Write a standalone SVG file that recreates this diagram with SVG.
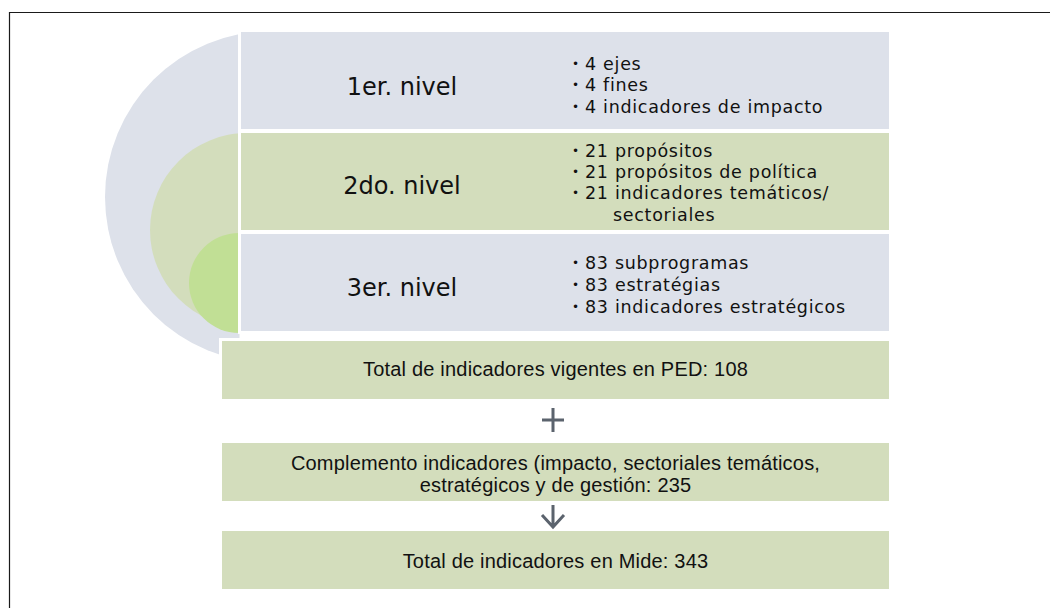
<svg xmlns="http://www.w3.org/2000/svg" width="1050" height="608" viewBox="0 0 1050 608">
  <defs>
    <style>
      .blue { fill: #dde1ea; stroke: #ffffff; stroke-width: 3; }
      .green { fill: #d3ddbc; stroke: #ffffff; stroke-width: 3; }
      .lvl { font-family: "DejaVu Sans", sans-serif; font-size: 24px; fill: #111111; text-anchor: middle; }
      .item { font-family: "DejaVu Sans", sans-serif; font-size: 17.5px; fill: #111111; letter-spacing: 0.7px; }
      .dot { font-family: "DejaVu Sans", sans-serif; font-size: 12px; fill: #111111; }
      .tot { font-family: "Liberation Sans", Arial, sans-serif; font-size: 20px; fill: #111111; text-anchor: middle; letter-spacing: 0.2px; }
      .sym { stroke: #5b636d; stroke-width: 3; fill: none; }
    </style>
    <clipPath id="leftHalf">
      <rect x="0" y="0" width="239.5" height="608"/>
    </clipPath>
  </defs>

  <rect x="0" y="0" width="1050" height="608" fill="#ffffff"/>
  <path d="M9.5,608 V12.5 H1050" fill="none" stroke="#1a1a1a" stroke-width="1.2"/>

  <g id="target" clip-path="url(#leftHalf)">
    <circle cx="271" cy="197" r="166" fill="#dde1ea"/>
    <circle cx="247" cy="230" r="97" fill="#d3ddbc"/>
    <circle cx="239" cy="283" r="50" fill="#c1df95"/>
  </g>

  <g id="nivel1">
    <rect class="blue" x="239.5" y="30.5" width="651" height="100"/>
    <text class="lvl" x="402" y="95">1er. nivel</text>
    <text class="dot" x="572" y="68">•</text>
    <text class="item" x="585" y="70">4 ejes</text>
    <text class="dot" x="572" y="89">•</text>
    <text class="item" x="585" y="91">4 fines</text>
    <text class="dot" x="572" y="111">•</text>
    <text class="item" x="585" y="113">4 indicadores de impacto</text>
  </g>

  <g id="nivel2">
    <rect class="green" x="239.5" y="131.5" width="651" height="100"/>
    <text class="lvl" x="402" y="194">2do. nivel</text>
    <text class="dot" x="572" y="155">•</text>
    <text class="item" x="585" y="157">21 propósitos</text>
    <text class="dot" x="572" y="176">•</text>
    <text class="item" x="585" y="178">21 propósitos de política</text>
    <text class="dot" x="572" y="197">•</text>
    <text class="item" x="585" y="199">21 indicadores temáticos/</text>
    <text class="item" x="613" y="221">sectoriales</text>
  </g>

  <g id="nivel3">
    <rect class="blue" x="239.5" y="232.5" width="651" height="100"/>
    <text class="lvl" x="402" y="296">3er. nivel</text>
    <text class="dot" x="572" y="267">•</text>
    <text class="item" x="585" y="269">83 subprogramas</text>
    <text class="dot" x="572" y="289">•</text>
    <text class="item" x="585" y="291">83 estratégias</text>
    <text class="dot" x="572" y="311">•</text>
    <text class="item" x="585" y="313">83 indicadores estratégicos</text>
  </g>

  <g id="total-ped">
    <rect class="green" x="220.5" y="339.5" width="670" height="61"/>
    <text class="tot" x="555.5" y="376">Total de indicadores vigentes en PED: 108</text>
  </g>

  <g id="complemento">
    <rect class="green" x="220.5" y="441.5" width="670" height="61"/>
    <text class="tot" x="555.5" y="470">Complemento indicadores (impacto, sectoriales temáticos,</text>
    <text class="tot" x="555.5" y="492">estratégicos y de gestión: 235</text>
  </g>

  <g id="total-mide">
    <rect class="green" x="220.5" y="529.5" width="670" height="61"/>
    <text class="tot" x="555.5" y="568">Total de indicadores en Mide: 343</text>
  </g>

  <g id="connectors">
    <path class="sym" d="M542,420 H564 M553,408 V432"/>
    <path class="sym" d="M553,505 V527 M542,515 L553,527 L564,515"/>
  </g>
</svg>
